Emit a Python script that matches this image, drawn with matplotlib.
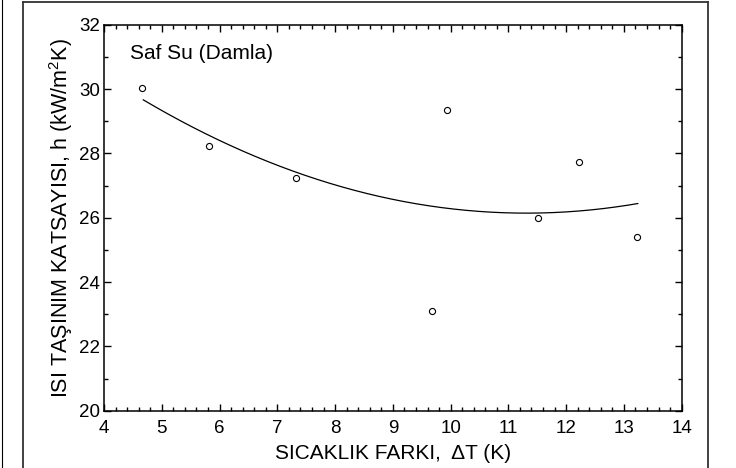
import numpy as np
import matplotlib.pyplot as plt
from matplotlib.lines import Line2D
from matplotlib.ticker import MultipleLocator

plt.rcParams["font.family"] = ["Liberation Sans", "DejaVu Sans"]

# measured points: temperature difference (K) vs heat transfer coefficient (kW/m2K)
delta_t = [4.66, 5.82, 7.33, 9.68, 9.93, 11.51, 12.22, 13.23]
h_coef = [30.04, 28.24, 27.24, 23.10, 29.35, 26.00, 27.73, 25.41]

# second order trend line, h = a*dT^2 + b*dT + c
trend_coef = [0.0801, -1.812, 36.39]
trend_range = [4.68, 13.24]

x_ticks = list(range(4, 15))
y_ticks = [20, 22, 24, 26, 28, 30, 32]

fig = plt.figure(figsize=(7.36, 4.68), dpi=100)
ax = fig.add_axes([0.1413, 0.1224, 0.7849, 0.8248])

xs = np.linspace(trend_range[0], trend_range[1], 200)
ax.plot(xs, np.polyval(trend_coef, xs), color="black", lw=0.9)
ax.plot(delta_t, h_coef, linestyle="None", marker="o", ms=4.4,
        mfc="white", mec="black", mew=0.8)

ax.set_xlim(4, 14)
ax.set_ylim(20, 32)
ax.set_xticks(x_ticks)
ax.set_yticks(y_ticks)
ax.xaxis.set_minor_locator(MultipleLocator(0.2))
ax.yaxis.set_minor_locator(MultipleLocator(1))
ax.tick_params(which="both", direction="in", top=True, right=True,
               labeltop=False, labelright=False, width=1.0, labelsize=13.5)
ax.tick_params(axis="x", which="both", pad=6.5)
ax.tick_params(axis="y", which="both", pad=3)
ax.tick_params(which="major", length=5)
ax.tick_params(which="minor", length=3)
for sp in ax.spines.values():
    sp.set_linewidth(1.1)

ax.set_xlabel("SICAKLIK FARKI,  \u0394T (K)", fontsize=15, labelpad=5)
ax.set_ylabel("ISI TAŞINIM KATSAYISI, h (kW/m$^\\mathregular{2}$K)", fontsize=15.5, labelpad=2.5)
ax.text(4.45, 31.1, "Saf Su (Damla)", fontsize=15, va="center", ha="left")

# surrounding page frame
frame_kw = dict(transform=fig.transFigure, color="#333333", lw=1.3)
fig.add_artist(Line2D([23 / 736, 23 / 736], [0, 1 - 2 / 468], **frame_kw))
fig.add_artist(Line2D([23 / 736, 708 / 736], [1 - 2 / 468, 1 - 2 / 468], **frame_kw))
fig.add_artist(Line2D([708 / 736, 708 / 736], [0, 1 - 2 / 468], **frame_kw))
fig.add_artist(Line2D([2 / 736, 2 / 736], [0, 1], transform=fig.transFigure,
                      color="black", lw=0.8))

fig.savefig("out.png", dpi=100)
